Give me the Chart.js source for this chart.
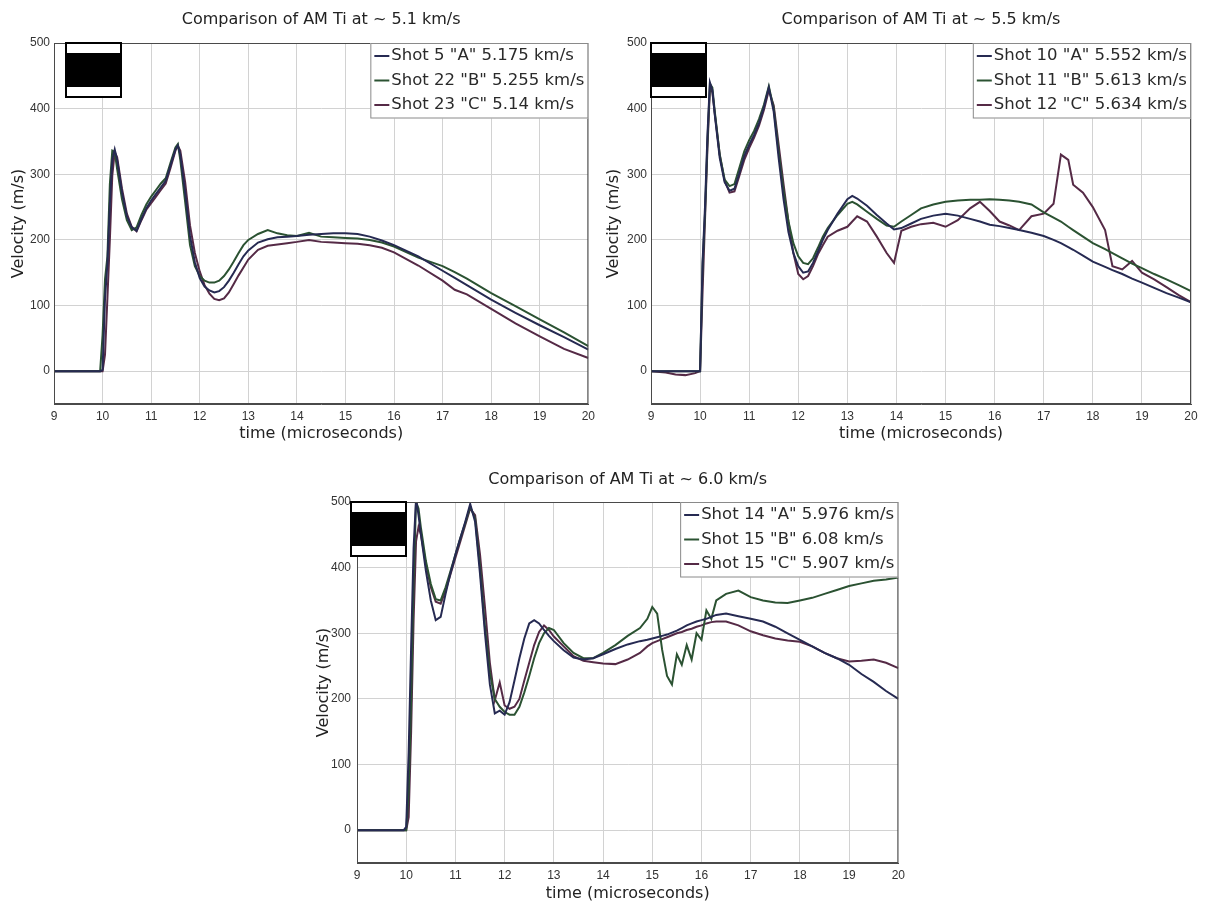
<!DOCTYPE html>
<html>
<head>
<meta charset="utf-8">
<script src="https://cdn.jsdelivr.net/npm/chart.js@4.4.1/dist/chart.umd.min.js"></script>
<style>
  html, body { margin: 0; padding: 0; background: #fff; }
  body { width: 1208px; height: 907px; position: relative; overflow: hidden; }
  canvas { position: absolute; }
</style>
</head>
<body>
<canvas id="v51" width="600" height="450" style="left:0;top:0"></canvas>
<canvas id="v55" width="608" height="450" style="left:600px;top:0"></canvas>
<canvas id="v60" width="610" height="449" style="left:300px;top:458px"></canvas>
<script>
// axis ticks
const xTicks = [9, 10, 11, 12, 13, 14, 15, 16, 17, 18, 19, 20];
const yTicks = [0, 100, 200, 300, 400, 500];

// ~5.1 km/s
const time51 = [9, 9.5, 9.95, 10, 10.05, 10.1, 10.15, 10.2, 10.25, 10.3,
  10.4, 10.5, 10.6, 10.7, 10.8, 10.9, 11, 11.1, 11.2, 11.3, 11.4, 11.5, 11.55,
  11.6, 11.7, 11.8, 11.9, 12, 12.1, 12.2, 12.3, 12.4, 12.5, 12.6, 12.7, 12.8, 12.9, 13,
  13.2, 13.4, 13.6, 13.8, 14, 14.25, 14.5, 14.75, 15, 15.25, 15.5, 15.75, 16,
  16.5, 17, 17.25, 17.5, 18, 18.5, 19, 19.5, 20];
const shot5 = [0, 0, 0, 2, 110, 165, 255, 322, 338, 322,
  272, 236, 219, 214, 232, 248, 260, 270, 280, 290, 314, 338, 344,
  330, 272, 206, 166, 142, 129, 123, 120, 122, 128, 138, 150, 163, 175, 184,
  196, 201, 204, 205, 206, 208, 209, 210, 210, 209, 205, 199, 192,
  175, 153, 142, 131, 109, 89, 70, 52, 33];
const shot22 = [0, 0, 0, 55, 140, 175, 285, 336, 334, 308,
  262, 230, 215, 219, 238, 254, 266, 276, 286, 294, 318, 341, 346,
  322, 258, 192, 160, 145, 138, 135, 135, 138, 145, 155, 167, 180, 192, 200,
  209, 215, 210, 207, 206, 211, 205, 204, 203, 202, 200, 196, 190,
  173, 160, 151, 141, 119, 99, 79, 59, 38];
const shot23 = [0, 0, 0, 0, 25, 112, 200, 298, 334, 326,
  278, 240, 220, 213, 230, 246, 256, 266, 276, 286, 310, 336, 343,
  336, 288, 222, 180, 152, 131, 118, 110, 108, 111, 120, 133, 146, 158, 170,
  185, 191, 193, 195, 197, 200, 197, 196, 195, 194, 192, 188, 181,
  161, 138, 124, 117, 95, 73, 53, 34, 20];

// ~5.5 km/s
const time55 = [9, 9.3, 9.5, 9.7, 9.9, 10, 10.05, 10.1, 10.15, 10.2, 10.25, 10.3,
  10.4, 10.5, 10.6, 10.7, 10.8, 10.9, 11, 11.1, 11.2, 11.3, 11.4, 11.5, 11.6, 11.7,
  11.8, 11.9, 12, 12.1, 12.2, 12.3, 12.4, 12.5, 12.6,
  12.8, 13, 13.1, 13.2, 13.4, 13.6, 13.8, 13.95, 14.1, 14.3, 14.5, 14.75, 15, 15.25,
  15.5, 15.7, 15.9, 16.1, 16.3, 16.5, 16.75, 17, 17.2, 17.35, 17.5, 17.6, 17.8, 18,
  18.25, 18.4, 18.6, 18.8, 19, 19.25, 19.5, 19.75, 20];
const shot10 = [0, 0, 0, 0, 0, 0, 165, 250, 360, 440, 428, 390,
  325, 288, 275, 278, 302, 328, 345, 360, 378, 402, 432, 395, 325, 262,
  212, 180, 160, 150, 152, 165, 182, 200, 215,
  240, 262, 267, 263, 252, 238, 225, 216, 218, 225, 232, 237, 240, 237,
  232, 228, 223, 221, 218, 215, 211, 206, 200, 195, 189, 185, 176, 167,
  159, 154, 148, 141, 135, 127, 119, 112, 105];
const shot11 = [0, 0, 0, 0, 0, 0, 160, 240, 350, 438, 432, 395,
  330, 292, 282, 285, 310, 335, 352, 366, 384, 406, 434, 400, 335, 275,
  228, 195, 175, 165, 163, 172, 188, 205, 218,
  238, 255, 258, 254, 243, 232, 222, 220, 228, 238, 248, 254, 258, 260,
  261, 261, 262, 261, 260, 258, 254, 242, 234, 228, 220, 215, 205, 195,
  186, 180, 172, 164, 157, 148, 140, 131, 122];
const shot12 = [0, -2, -5, -6, -3, 0, 120, 230, 340, 430, 425, 392,
  330, 290, 272, 274, 298, 322, 340, 356, 374, 398, 428, 405, 345, 285,
  228, 180, 148, 140, 145, 160, 178, 192, 205,
  214, 220, 228, 236, 228, 205, 180, 165, 214, 220, 224, 226, 220, 230,
  248, 258, 244, 228, 222, 215, 236, 240, 255, 330, 322, 284, 272, 250,
  215, 160, 155, 168, 150, 140, 128, 116, 105];

// ~6.0 km/s
const time60 = [9, 9.5, 9.95, 10, 10.05, 10.1, 10.15, 10.2, 10.25, 10.3,
  10.4, 10.5, 10.6, 10.7, 10.8, 10.9, 11, 11.1, 11.2, 11.3, 11.4, 11.5, 11.6, 11.7,
  11.8, 11.9, 12, 12.1, 12.2, 12.3, 12.4, 12.5, 12.6, 12.7, 12.8, 12.9, 13,
  13.2, 13.4, 13.6, 13.8, 14, 14.25, 14.5, 14.75, 14.9,
  15, 15.1, 15.2, 15.3, 15.4, 15.5, 15.6, 15.7, 15.8, 15.9, 16, 16.1, 16.2, 16.3,
  16.5, 16.75, 17, 17.25, 17.5, 17.75, 18, 18.25, 18.5, 18.75, 19, 19.25, 19.5, 19.75, 20];
const shot14 = [0, 0, 0, 5, 120, 280, 430, 505, 480, 450,
  395, 350, 320, 325, 360, 392, 420, 445, 470, 497, 470, 390, 300, 222,
  178, 182, 176, 195, 228, 262, 292, 315, 320, 315, 305, 296, 288,
  274, 263, 260, 262, 268, 276, 283, 288, 290,
  292, 294, 296, 298, 301, 304, 308, 312, 315, 318, 320, 322, 325, 328,
  330, 326, 322, 318, 310, 300, 290, 280, 270, 262, 252, 238, 226, 212, 200];
const shot15 = [0, 0, 0, 0, 60, 200, 380, 500, 490, 460,
  410, 375, 352, 350, 370, 395, 420, 445, 468, 493, 475, 400, 310, 240,
  200, 188, 180, 176, 176, 188, 210, 235, 262, 285, 300, 308, 305,
  285, 270, 262, 262, 270, 282, 296, 308, 322,
  340, 330, 275, 235, 222, 268, 252, 282, 260, 300, 290, 335, 322, 350,
  360, 365, 355, 350, 347, 346, 350, 354, 360, 366, 372, 376, 380, 382, 385];
const shot16 = [0, 0, 0, 0, 20, 150, 320, 440, 462, 450,
  405, 370, 348, 345, 365, 390, 415, 440, 465, 490, 480, 420, 340, 255,
  198, 225, 190, 185, 188, 200, 228, 255, 282, 302, 312, 305, 295,
  280, 265, 258, 256, 254, 253, 260, 270, 280,
  285, 288, 291, 294, 297, 300, 302, 305, 307, 310, 312, 315, 317, 318,
  318, 312, 303, 297, 292, 289, 287, 280, 270, 262, 257, 258, 260, 255, 247];

const colorA = "#262a52";
const colorB = "#2b5232";
const colorC = "#552a46";
const tickFont = "'Liberation Sans', Arial, sans-serif";
const textFont = "'DejaVu Sans', sans-serif";

// axes box, legend box and the black block in the corner
const boxPlugin = {
  id: "boxPlugin",
  afterDatasetsDraw(chart, args, opts) {
    const ctx = chart.ctx;
    const a = chart.chartArea;
    ctx.save();
    ctx.strokeStyle = "#4a4a4a";
    ctx.lineWidth = 1;
    ctx.strokeRect(a.left + 0.5, a.top + 0.5, a.right - a.left - 1, a.bottom - a.top - 1);

    ctx.font = "16.5px " + textFont;
    const sets = chart.data.datasets;
    const textW = Math.max(...sets.map(d => ctx.measureText(d.label).width));
    const sample = 15, gap = 2, rowH = 24.5, padX = 4;
    const w = padX + sample + gap + textW + padX;
    const h = rowH * sets.length + 2;
    const x0 = a.right - w, y0 = a.top;
    ctx.fillStyle = "#fff";
    ctx.fillRect(x0, y0, w, h);
    ctx.strokeStyle = "#8a8a8a";
    ctx.strokeRect(x0 + 0.5, y0 + 0.5, w - 1, h - 1);
    sets.forEach((d, i) => {
      const y = y0 + 13 + i * rowH;
      ctx.strokeStyle = d.borderColor;
      ctx.lineWidth = 2;
      ctx.beginPath();
      ctx.moveTo(x0 + padX, y);
      ctx.lineTo(x0 + padX + sample, y);
      ctx.stroke();
      ctx.fillStyle = "#2a2a2a";
      ctx.textBaseline = "middle";
      ctx.fillText(d.label, x0 + padX + sample + gap, y);
    });

    const bx = a.left + opts.blockX, by = a.top - 1, bw = 57, bh = 56;
    ctx.fillStyle = "#000";
    ctx.fillRect(bx, by, bw, bh);
    ctx.fillStyle = "#fff";
    ctx.fillRect(bx + 2, by + 2, bw - 4, 9);
    ctx.fillRect(bx + 2, by + bh - 11, bw - 4, 9);
    ctx.restore();
  }
};

function points(time, vals) {
  return time.map((t, i) => ({ x: t, y: vals[i] }));
}

function makeChart(id, title, time, series, labels, g) {
  const colors = [colorA, colorB, colorC];
  new Chart(document.getElementById(id).getContext("2d"), {
    type: "line",
    data: {
      datasets: series.map((s, i) => ({
        label: labels[i],
        data: points(time, s),
        borderColor: colors[i],
        backgroundColor: colors[i],
        borderWidth: 2,
        pointRadius: 0,
        tension: 0
      }))
    },
    options: {
      responsive: false,
      animation: false,
      layout: { padding: { left: 0, right: g.padRight, top: 4, bottom: 0 } },
      plugins: {
        legend: { display: false },
        tooltip: { enabled: false },
        title: {
          display: true,
          text: title,
          fullSize: false,
          color: "#222",
          font: { family: textFont, size: 16, weight: "normal" },
          padding: { top: g.titleTop, bottom: g.titleBottom }
        },
        boxPlugin: { blockX: g.blockX }
      },
      scales: {
        x: {
          type: "linear",
          min: 9,
          max: 20,
          afterBuildTicks: s => { s.ticks = xTicks.map(v => ({ value: v })); },
          afterFit: s => { s.height = g.xHeight; },
          ticks: {
            color: "#333",
            padding: 5,
            maxRotation: 0,
            font: { family: tickFont, size: 12 }
          },
          grid: { color: "#d2d2d2", borderDash: [4, 2], drawTicks: false },
          border: { color: "#4a4a4a" },
          title: {
            display: true,
            text: "time (microseconds)",
            color: "#222",
            font: { family: textFont, size: 16 },
            padding: { top: 0, bottom: g.xTitleBottom }
          }
        },
        y: {
          min: -50,
          max: 500,
          afterBuildTicks: s => { s.ticks = yTicks.map(v => ({ value: v })); },
          afterFit: s => { s.width = g.yWidth; },
          ticks: {
            color: "#333",
            padding: g.yTickPad,
            font: { family: tickFont, size: 12 }
          },
          grid: { color: "#d2d2d2", drawTicks: false },
          border: { color: "#4a4a4a" },
          title: {
            display: true,
            text: "Velocity (m/s)",
            color: "#222",
            font: { family: textFont, size: 16 },
            padding: { top: g.yTitleTop, bottom: 0 }
          }
        }
      }
    },
    plugins: [boxPlugin]
  });
}

makeChart("v51", "Comparison of AM Ti at ~ 5.1 km/s", time51, [shot5, shot22, shot23],
  ['Shot 5 "A" 5.175 km/s', 'Shot 22 "B" 5.255 km/s', 'Shot 23 "C" 5.14 km/s'],
  { padRight: 6, titleTop: 6, titleBottom: 13.8, xHeight: 46, xTitleBottom: 7,
    yWidth: 54, yTickPad: 4, yTitleTop: 9, blockX: 11 });

makeChart("v55", "Comparison of AM Ti at ~ 5.5 km/s", time55, [shot10, shot11, shot12],
  ['Shot 10 "A" 5.552 km/s', 'Shot 11 "B" 5.613 km/s', 'Shot 12 "C" 5.634 km/s'],
  { padRight: 17, titleTop: 6, titleBottom: 13.8, xHeight: 46, xTitleBottom: 7,
    yWidth: 51, yTickPad: 4, yTitleTop: 4, blockX: -1 });

makeChart("v60", "Comparison of AM Ti at ~ 6.0 km/s", time60, [shot14, shot15, shot16],
  ['Shot 14 "A" 5.976 km/s', 'Shot 15 "B" 6.08 km/s', 'Shot 15 "C" 5.907 km/s'],
  { padRight: 11, titleTop: 8, titleBottom: 12.8, xHeight: 44, xTitleBottom: 4,
    yWidth: 57, yTickPad: 6, yTitleTop: 14, blockX: -7 });
</script>
</body>
</html>
